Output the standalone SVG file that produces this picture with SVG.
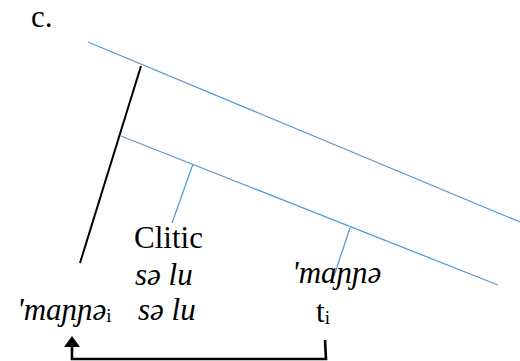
<svg xmlns="http://www.w3.org/2000/svg" width="520" height="361" viewBox="0 0 520 361">
<style>
.t{font-family:"Liberation Serif","Times New Roman",serif;font-size:31px;fill:#000}
.it{font-style:italic}
.sub{font-style:normal;font-size:19px}
.b{stroke:#5B9BD5;stroke-width:1.3;fill:none}
.k{stroke:#000;stroke-width:2;fill:none}
.arr{stroke:#000;stroke-width:2.6;fill:none}
</style>
<rect width="520" height="361" fill="#fff"/>
<g id="connectors">
<line class="b" x1="88" y1="42" x2="520" y2="222"/>
<line class="b" x1="121" y1="136" x2="498" y2="285"/>
<line class="b" x1="193" y1="164" x2="172" y2="223"/>
<line class="b" x1="350" y1="228" x2="334" y2="276"/>
<line class="k" x1="141" y1="66" x2="80" y2="263"/>
<path class="arr" d="M325 340 L326 359 L72 359 L72 346"/>
<polygon points="64,347 80,347 72,336" fill="#000"/>
</g>
<g id="label-c"><text class="t" x="31" y="27">c.</text></g>
<g id="clitic"><text class="t" x="134" y="248">Clitic</text></g>
<g id="selu1"><text class="t it" x="135" y="285">sə lu</text></g>
<g id="selu2"><text class="t it" x="138" y="320">sə lu</text></g>
<g id="manne-i"><text class="t it" x="17" y="320">'maɲɲə<tspan class="sub" dy="2">i</tspan></text></g>
<g id="manne"><text class="t it" x="292" y="283">'maɲɲə</text></g>
<g id="trace"><text class="t" x="316" y="322">t<tspan class="sub" dy="2">i</tspan></text></g>
</svg>
